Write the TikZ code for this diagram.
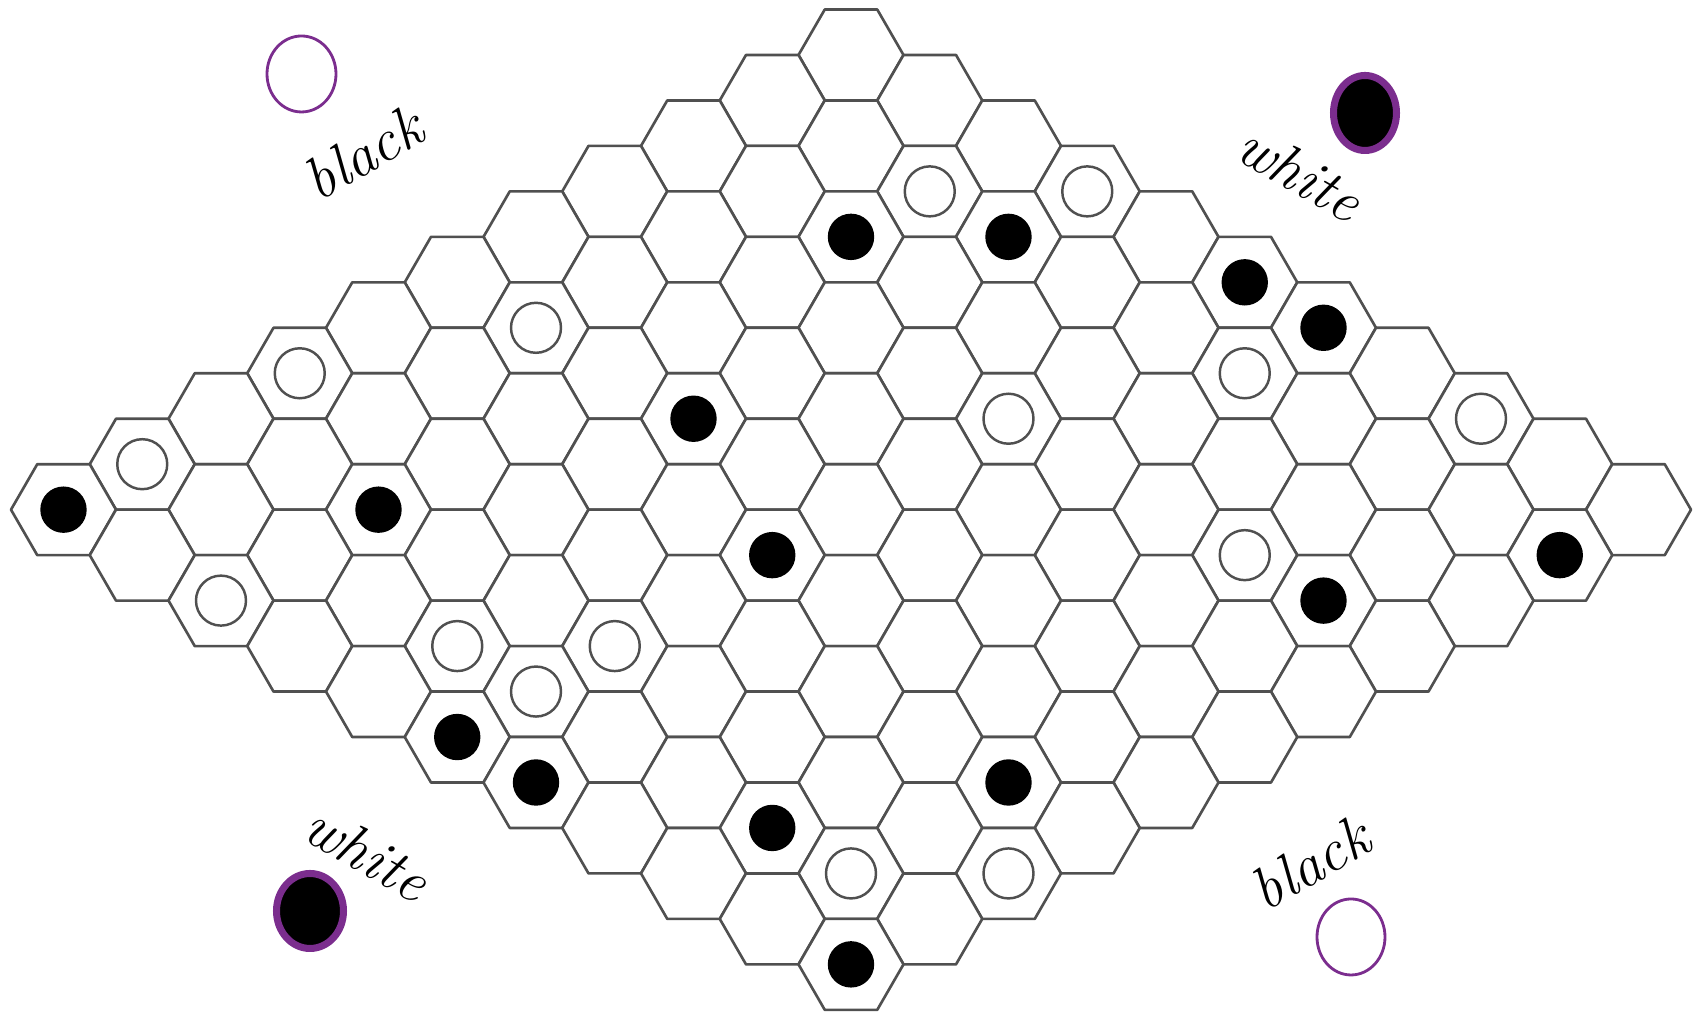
\documentclass[tikz,border=0pt]{standalone}
\usepackage{tikz}

\definecolor{ringpurple}{RGB}{123,45,142}
\definecolor{gridgray}{RGB}{80,80,80}

\begin{document}
\begin{tikzpicture}[
    cell/.style={draw=gridgray, line width=0.75pt, line join=round, fill=white},
    blackstone/.style={fill=black},
    whitestone/.style={draw=gridgray, line width=0.7pt, fill=white},
    sidelabel/.style={font=\fontsize{17}{20}\selectfont\itshape}
  ]

        \useasboundingbox (0,0) rectangle (17.02,10.20);

        % board, 11 x 11
        \foreach \i in {0,...,10}{
          \foreach \j in {0,...,10}{
            \draw[cell] ({8.51+0.7875*(\j-\i)},{9.65-0.4547*(\i+\j)})
              +(0:0.525) -- +(60:0.525) -- +(120:0.525) -- +(180:0.525)
              -- +(240:0.525) -- +(300:0.525) -- cycle;
          }
        }

        % black stones
        \foreach \i/\j in {2/2, 1/3, 0/5, 0/6, 5/3, 10/0, 8/2, 6/5, 1/10, 3/9, 10/5, 10/6, 7/9, 9/8, 10/10}
          \fill[blackstone] ({8.51+0.7875*(\j-\i)},{9.65-0.4547*(\i+\j)}) circle (0.232);

        % white stones
        \foreach \i/\j in {1/2, 0/3, 5/1, 7/0, 1/6, 3/5, 0/8, 9/0, 3/8, 10/2, 9/4, 8/5, 9/5, 9/9, 8/10}
          \draw[whitestone] ({8.51+0.7875*(\j-\i)},{9.65-0.4547*(\i+\j)}) circle (0.25);

        % corner markers
        \draw[ringpurple, line width=0.8pt] (3.015, 9.46) ellipse (0.345 and 0.38);
        \node[sidelabel, rotate=30] (lblTL) at (3.63, 8.67) {black};

        \filldraw[draw=ringpurple, fill=black, line width=2pt] (13.65, 9.07) ellipse (0.315 and 0.375);
        \node[sidelabel, rotate=-30] (lblTR) at (13.0, 8.47) {white};

        \filldraw[draw=ringpurple, fill=black, line width=2pt] (3.10, 1.09) ellipse (0.335 and 0.375);
        \node[sidelabel, rotate=-30] (lblBL) at (3.67, 1.67) {white};

        \draw[ringpurple, line width=0.8pt] (13.51, 0.83) ellipse (0.34 and 0.38);
        \node[sidelabel, rotate=30] (lblBR) at (13.10, 1.57) {black};

\end{tikzpicture}
\end{document}
